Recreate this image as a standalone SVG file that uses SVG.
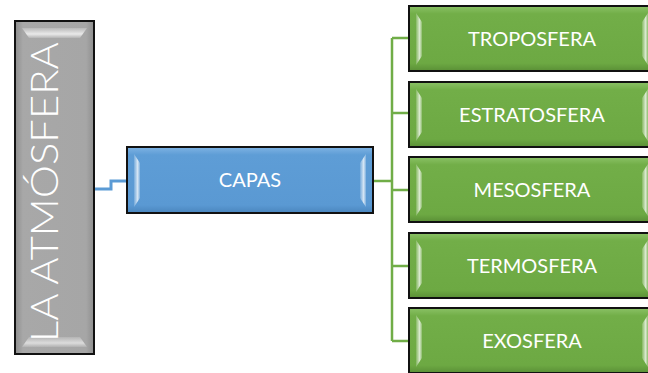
<svg xmlns="http://www.w3.org/2000/svg" width="648" height="373" viewBox="0 0 648 373">
<style>
.lbl{font-family:Lato,"Open Sans",sans-serif;fill:#fff;text-anchor:middle;font-size:20px}
.box{stroke:#111;stroke-width:2}
.conn-g{fill:none;stroke:#70AD47;stroke-width:2.5}
.conn-b{fill:none;stroke:#5B9BD5;stroke-width:3}
</style>
<defs>
<linearGradient id="gg" x1="0" y1="0" x2="0" y2="1">
<stop offset="0" stop-color="#8BC266"/><stop offset="0.12" stop-color="#72AE48"/><stop offset="0.88" stop-color="#6DA943"/><stop offset="1" stop-color="#5A8F36"/>
</linearGradient>
<linearGradient id="gb" x1="0" y1="0" x2="0" y2="1">
<stop offset="0" stop-color="#7FB3E3"/><stop offset="0.12" stop-color="#5E9DD6"/><stop offset="0.88" stop-color="#5A99D3"/><stop offset="1" stop-color="#4A86BE"/>
</linearGradient>
<linearGradient id="ggr" x1="0" y1="0" x2="1" y2="0">
<stop offset="0" stop-color="#8C8C8C"/><stop offset="0.1" stop-color="#A8A8A8"/><stop offset="0.9" stop-color="#A6A6A6"/><stop offset="1" stop-color="#8E8E8E"/>
</linearGradient>
<linearGradient id="hlL" x1="0" y1="0" x2="1" y2="0">
<stop offset="0" stop-color="#fff" stop-opacity="0.15"/><stop offset="0.6" stop-color="#fff" stop-opacity="0.75"/><stop offset="1" stop-color="#fff" stop-opacity="0.2"/>
</linearGradient>
<linearGradient id="hlT" x1="0" y1="0" x2="0" y2="1">
<stop offset="0" stop-color="#fff" stop-opacity="0.2"/><stop offset="0.6" stop-color="#fff" stop-opacity="0.75"/><stop offset="1" stop-color="#fff" stop-opacity="0.15"/>
</linearGradient>
</defs>

<g id="connectors">
<path class="conn-b" d="M94 189 H111 V181 H127"/>
<path class="conn-g" d="M373 181 H392 M392 38 V341 M392 38 H409 M392 113 H409 M392 190 H409 M392 266 H409 M392 341 H409"/>
</g>

<g id="node-atmosfera">
<rect class="box" x="15" y="21" width="79" height="333" fill="url(#ggr)"/>
<polygon points="22,28 87,28 80,38 29,38" fill="url(#hlT)"/>
<polygon points="29,337 80,337 87,347 22,347" fill="url(#hlT)" opacity="0.8"/>
<text class="lbl" transform="translate(58 192) rotate(-90)" style="font-size:37px;font-weight:300" textLength="300" lengthAdjust="spacingAndGlyphs">LA ATMÓSFERA</text>
</g>

<g id="node-capas">
<rect class="box" x="127" y="147" width="246" height="66" fill="url(#gb)"/>
<polygon points="134,154 140,163 140,198 134,207" fill="url(#hlL)"/>
<polygon points="366,154 360,163 360,198 366,207" fill="url(#hlL)"/>
<text class="lbl" x="250" y="187">CAPAS</text>
</g>

<g id="node-troposfera">
<rect class="box" x="409" y="6" width="246" height="65" fill="url(#gg)"/>
<polygon points="416,13 422,22 422,56 416,65" fill="url(#hlL)"/>
<polygon points="648,13 642,22 642,56 648,65" fill="url(#hlL)"/>
<text class="lbl" x="532" y="46">TROPOSFERA</text>
</g>

<g id="node-estratosfera">
<rect class="box" x="409" y="82" width="246" height="65" fill="url(#gg)"/>
<polygon points="416,89 422,98 422,132 416,141" fill="url(#hlL)"/>
<polygon points="648,89 642,98 642,132 648,141" fill="url(#hlL)"/>
<text class="lbl" x="532" y="122">ESTRATOSFERA</text>
</g>

<g id="node-mesosfera">
<rect class="box" x="409" y="157" width="246" height="65" fill="url(#gg)"/>
<polygon points="416,164 422,173 422,207 416,216" fill="url(#hlL)"/>
<polygon points="648,164 642,173 642,207 648,216" fill="url(#hlL)"/>
<text class="lbl" x="532" y="197">MESOSFERA</text>
</g>

<g id="node-termosfera">
<rect class="box" x="409" y="233" width="246" height="65" fill="url(#gg)"/>
<polygon points="416,240 422,249 422,283 416,292" fill="url(#hlL)"/>
<polygon points="648,240 642,249 642,283 648,292" fill="url(#hlL)"/>
<text class="lbl" x="532" y="273">TERMOSFERA</text>
</g>

<g id="node-exosfera">
<rect class="box" x="409" y="308" width="246" height="65" fill="url(#gg)"/>
<polygon points="416,315 422,324 422,358 416,367" fill="url(#hlL)"/>
<polygon points="648,315 642,324 642,358 648,367" fill="url(#hlL)"/>
<text class="lbl" x="532" y="348">EXOSFERA</text>
</g>
</svg>
